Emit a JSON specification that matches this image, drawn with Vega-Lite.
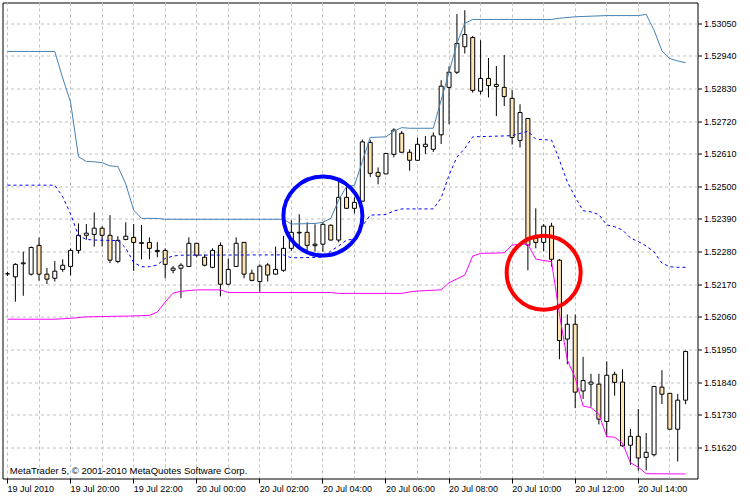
{
  "$schema": "https://vega.github.io/schema/vega-lite/v6.json",
  "width": 695,
  "height": 476,
  "padding": {"left": 2.5, "top": 2.5, "right": 52.5, "bottom": 21.5},
  "autosize": {"type": "none"},
  "background": "#ffffff",
  "config": {
    "view": {"stroke": "#000000", "strokeWidth": 1},
    "axis": {"labelOverlap": false}
  },
  "datasets": {
    "candles": [
      {"t":"2010-07-19T18:00:00Z","o":1.52205,"h":1.52212,"l":1.52198,"c":1.52205},
      {"t":"2010-07-19T18:15:00Z","o":1.52195,"h":1.52241,"l":1.52111,"c":1.52237},
      {"t":"2010-07-19T18:30:00Z","o":1.52239,"h":1.52280,"l":1.52131,"c":1.52242},
      {"t":"2010-07-19T18:45:00Z","o":1.52204,"h":1.52297,"l":1.52199,"c":1.52294},
      {"t":"2010-07-19T19:00:00Z","o":1.52301,"h":1.52327,"l":1.52182,"c":1.52204},
      {"t":"2010-07-19T19:15:00Z","o":1.52204,"h":1.52225,"l":1.52171,"c":1.52187},
      {"t":"2010-07-19T19:30:00Z","o":1.52190,"h":1.52248,"l":1.52179,"c":1.52214},
      {"t":"2010-07-19T19:45:00Z","o":1.52220,"h":1.52254,"l":1.52212,"c":1.52234},
      {"t":"2010-07-19T20:00:00Z","o":1.52230,"h":1.52291,"l":1.52199,"c":1.52284},
      {"t":"2010-07-19T20:15:00Z","o":1.52284,"h":1.52375,"l":1.52273,"c":1.52335},
      {"t":"2010-07-19T20:30:00Z","o":1.52335,"h":1.52373,"l":1.52320,"c":1.52342},
      {"t":"2010-07-19T20:45:00Z","o":1.52338,"h":1.52412,"l":1.52297,"c":1.52359},
      {"t":"2010-07-19T21:00:00Z","o":1.52359,"h":1.52365,"l":1.52297,"c":1.52335},
      {"t":"2010-07-19T21:15:00Z","o":1.52335,"h":1.52403,"l":1.52241,"c":1.52251},
      {"t":"2010-07-19T21:30:00Z","o":1.52247,"h":1.52332,"l":1.52241,"c":1.52318},
      {"t":"2010-07-19T21:45:00Z","o":1.52321,"h":1.52379,"l":1.52318,"c":1.52332},
      {"t":"2010-07-19T22:00:00Z","o":1.52328,"h":1.52373,"l":1.52215,"c":1.52311},
      {"t":"2010-07-19T22:15:00Z","o":1.52310,"h":1.52370,"l":1.52254,"c":1.52308},
      {"t":"2010-07-19T22:30:00Z","o":1.52311,"h":1.52328,"l":1.52254,"c":1.52291},
      {"t":"2010-07-19T22:45:00Z","o":1.52284,"h":1.52312,"l":1.52261,"c":1.52280},
      {"t":"2010-07-19T23:00:00Z","o":1.52284,"h":1.52291,"l":1.52190,"c":1.52237},
      {"t":"2010-07-19T23:15:00Z","o":1.52217,"h":1.52231,"l":1.52207,"c":1.52224},
      {"t":"2010-07-19T23:30:00Z","o":1.52224,"h":1.52241,"l":1.52123,"c":1.52234},
      {"t":"2010-07-19T23:45:00Z","o":1.52230,"h":1.52328,"l":1.52229,"c":1.52308},
      {"t":"2010-07-20T00:00:00Z","o":1.52308,"h":1.52309,"l":1.52261,"c":1.52268},
      {"t":"2010-07-20T00:15:00Z","o":1.52261,"h":1.52271,"l":1.52230,"c":1.52234},
      {"t":"2010-07-20T00:30:00Z","o":1.52227,"h":1.52291,"l":1.52224,"c":1.52284},
      {"t":"2010-07-20T00:45:00Z","o":1.52301,"h":1.52311,"l":1.52129,"c":1.52170},
      {"t":"2010-07-20T01:00:00Z","o":1.52170,"h":1.52257,"l":1.52168,"c":1.52220},
      {"t":"2010-07-20T01:15:00Z","o":1.52230,"h":1.52328,"l":1.52229,"c":1.52308},
      {"t":"2010-07-20T01:30:00Z","o":1.52311,"h":1.52312,"l":1.52190,"c":1.52204},
      {"t":"2010-07-20T01:45:00Z","o":1.52207,"h":1.52219,"l":1.52180,"c":1.52183},
      {"t":"2010-07-20T02:00:00Z","o":1.52179,"h":1.52237,"l":1.52145,"c":1.52231},
      {"t":"2010-07-20T02:15:00Z","o":1.52235,"h":1.52241,"l":1.52179,"c":1.52201},
      {"t":"2010-07-20T02:30:00Z","o":1.52204,"h":1.52297,"l":1.52203,"c":1.52220},
      {"t":"2010-07-20T02:45:00Z","o":1.52217,"h":1.52333,"l":1.52212,"c":1.52291},
      {"t":"2010-07-20T03:00:00Z","o":1.52291,"h":1.52386,"l":1.52283,"c":1.52345},
      {"t":"2010-07-20T03:15:00Z","o":1.52345,"h":1.52406,"l":1.52291,"c":1.52343},
      {"t":"2010-07-20T03:30:00Z","o":1.52345,"h":1.52379,"l":1.52283,"c":1.52301},
      {"t":"2010-07-20T03:45:00Z","o":1.52305,"h":1.52372,"l":1.52280,"c":1.52300},
      {"t":"2010-07-20T04:00:00Z","o":1.52305,"h":1.52379,"l":1.52280,"c":1.52372},
      {"t":"2010-07-20T04:15:00Z","o":1.52369,"h":1.52372,"l":1.52317,"c":1.52319},
      {"t":"2010-07-20T04:30:00Z","o":1.52319,"h":1.52521,"l":1.52311,"c":1.52463},
      {"t":"2010-07-20T04:45:00Z","o":1.52463,"h":1.52501,"l":1.52425,"c":1.52426},
      {"t":"2010-07-20T05:00:00Z","o":1.52426,"h":1.52463,"l":1.52409,"c":1.52446},
      {"t":"2010-07-20T05:15:00Z","o":1.52450,"h":1.52658,"l":1.52449,"c":1.52650},
      {"t":"2010-07-20T05:30:00Z","o":1.52648,"h":1.52657,"l":1.52532,"c":1.52544},
      {"t":"2010-07-20T05:45:00Z","o":1.52547,"h":1.52564,"l":1.52507,"c":1.52534},
      {"t":"2010-07-20T06:00:00Z","o":1.52542,"h":1.52612,"l":1.52541,"c":1.52611},
      {"t":"2010-07-20T06:15:00Z","o":1.52608,"h":1.52696,"l":1.52598,"c":1.52690},
      {"t":"2010-07-20T06:30:00Z","o":1.52679,"h":1.52687,"l":1.52614,"c":1.52615},
      {"t":"2010-07-20T06:45:00Z","o":1.52615,"h":1.52625,"l":1.52553,"c":1.52588},
      {"t":"2010-07-20T07:00:00Z","o":1.52588,"h":1.52664,"l":1.52587,"c":1.52642},
      {"t":"2010-07-20T07:15:00Z","o":1.52634,"h":1.52670,"l":1.52609,"c":1.52642},
      {"t":"2010-07-20T07:30:00Z","o":1.52625,"h":1.52682,"l":1.52616,"c":1.52670},
      {"t":"2010-07-20T07:45:00Z","o":1.52674,"h":1.52858,"l":1.52643,"c":1.52838},
      {"t":"2010-07-20T08:00:00Z","o":1.52834,"h":1.52905,"l":1.52710,"c":1.52885},
      {"t":"2010-07-20T08:15:00Z","o":1.52885,"h":1.53081,"l":1.52879,"c":1.52982},
      {"t":"2010-07-20T08:30:00Z","o":1.52971,"h":1.53094,"l":1.52948,"c":1.53012},
      {"t":"2010-07-20T08:45:00Z","o":1.53002,"h":1.53007,"l":1.52816,"c":1.52824},
      {"t":"2010-07-20T09:00:00Z","o":1.52821,"h":1.52993,"l":1.52810,"c":1.52864},
      {"t":"2010-07-20T09:15:00Z","o":1.52864,"h":1.52933,"l":1.52800,"c":1.52840},
      {"t":"2010-07-20T09:30:00Z","o":1.52844,"h":1.52906,"l":1.52737,"c":1.52837},
      {"t":"2010-07-20T09:45:00Z","o":1.52834,"h":1.52943,"l":1.52771,"c":1.52803},
      {"t":"2010-07-20T10:00:00Z","o":1.52797,"h":1.52825,"l":1.52641,"c":1.52665},
      {"t":"2010-07-20T10:15:00Z","o":1.52655,"h":1.52777,"l":1.52631,"c":1.52749},
      {"t":"2010-07-20T10:30:00Z","o":1.52729,"h":1.52730,"l":1.52217,"c":1.52302},
      {"t":"2010-07-20T10:45:00Z","o":1.52325,"h":1.52426,"l":1.52291,"c":1.52311},
      {"t":"2010-07-20T11:00:00Z","o":1.52311,"h":1.52373,"l":1.52281,"c":1.52366},
      {"t":"2010-07-20T11:15:00Z","o":1.52366,"h":1.52377,"l":1.52229,"c":1.52254},
      {"t":"2010-07-20T11:30:00Z","o":1.52251,"h":1.52255,"l":1.51917,"c":1.51980},
      {"t":"2010-07-20T11:45:00Z","o":1.51985,"h":1.52068,"l":1.51900,"c":1.52035},
      {"t":"2010-07-20T12:00:00Z","o":1.52035,"h":1.52068,"l":1.51752,"c":1.51806},
      {"t":"2010-07-20T12:15:00Z","o":1.51810,"h":1.51925,"l":1.51783,"c":1.51845},
      {"t":"2010-07-20T12:30:00Z","o":1.51833,"h":1.51868,"l":1.51757,"c":1.51840},
      {"t":"2010-07-20T12:45:00Z","o":1.51833,"h":1.51868,"l":1.51697,"c":1.51715},
      {"t":"2010-07-20T13:00:00Z","o":1.51707,"h":1.51910,"l":1.51656,"c":1.51863},
      {"t":"2010-07-20T13:15:00Z","o":1.51866,"h":1.51875,"l":1.51794,"c":1.51839},
      {"t":"2010-07-20T13:30:00Z","o":1.51840,"h":1.51883,"l":1.51622,"c":1.51625},
      {"t":"2010-07-20T13:45:00Z","o":1.51627,"h":1.51682,"l":1.51561,"c":1.51657},
      {"t":"2010-07-20T14:00:00Z","o":1.51657,"h":1.51749,"l":1.51541,"c":1.51584},
      {"t":"2010-07-20T14:15:00Z","o":1.51586,"h":1.51668,"l":1.51542,"c":1.51603},
      {"t":"2010-07-20T14:30:00Z","o":1.51595,"h":1.51827,"l":1.51589,"c":1.51825},
      {"t":"2010-07-20T14:45:00Z","o":1.51823,"h":1.51880,"l":1.51766,"c":1.51799},
      {"t":"2010-07-20T15:00:00Z","o":1.51802,"h":1.51803,"l":1.51680,"c":1.51681},
      {"t":"2010-07-20T15:15:00Z","o":1.51681,"h":1.51800,"l":1.51572,"c":1.51779},
      {"t":"2010-07-20T15:30:00Z","o":1.51779,"h":1.51946,"l":1.51765,"c":1.51943}
    ],
    "upper": [
      {"t":"2010-07-19T18:00:00Z","v":1.52955},
      {"t":"2010-07-19T19:30:00Z","v":1.52955},
      {"t":"2010-07-19T19:45:00Z","v":1.52865},
      {"t":"2010-07-19T20:00:00Z","v":1.52784},
      {"t":"2010-07-19T20:15:00Z","v":1.52600},
      {"t":"2010-07-19T20:30:00Z","v":1.52584},
      {"t":"2010-07-19T20:45:00Z","v":1.52583},
      {"t":"2010-07-19T21:00:00Z","v":1.52580},
      {"t":"2010-07-19T21:15:00Z","v":1.52569},
      {"t":"2010-07-19T21:30:00Z","v":1.52567},
      {"t":"2010-07-19T21:45:00Z","v":1.52508},
      {"t":"2010-07-19T22:00:00Z","v":1.52420},
      {"t":"2010-07-19T22:15:00Z","v":1.52392},
      {"t":"2010-07-19T22:45:00Z","v":1.52392},
      {"t":"2010-07-19T23:00:00Z","v":1.52389},
      {"t":"2010-07-20T02:45:00Z","v":1.52389},
      {"t":"2010-07-20T03:00:00Z","v":1.52373},
      {"t":"2010-07-20T03:45:00Z","v":1.52375},
      {"t":"2010-07-20T04:00:00Z","v":1.52379},
      {"t":"2010-07-20T04:15:00Z","v":1.52392},
      {"t":"2010-07-20T04:30:00Z","v":1.52454},
      {"t":"2010-07-20T04:45:00Z","v":1.52500},
      {"t":"2010-07-20T05:00:00Z","v":1.52503},
      {"t":"2010-07-20T05:15:00Z","v":1.52584},
      {"t":"2010-07-20T05:30:00Z","v":1.52665},
      {"t":"2010-07-20T05:45:00Z","v":1.52666},
      {"t":"2010-07-20T06:00:00Z","v":1.52667},
      {"t":"2010-07-20T06:15:00Z","v":1.52686},
      {"t":"2010-07-20T06:30:00Z","v":1.52698},
      {"t":"2010-07-20T06:45:00Z","v":1.52696},
      {"t":"2010-07-20T07:30:00Z","v":1.52696},
      {"t":"2010-07-20T07:45:00Z","v":1.52791},
      {"t":"2010-07-20T08:00:00Z","v":1.52885},
      {"t":"2010-07-20T08:15:00Z","v":1.52982},
      {"t":"2010-07-20T08:30:00Z","v":1.53050},
      {"t":"2010-07-20T08:45:00Z","v":1.53063},
      {"t":"2010-07-20T11:15:00Z","v":1.53063},
      {"t":"2010-07-20T11:30:00Z","v":1.53067},
      {"t":"2010-07-20T12:00:00Z","v":1.53072},
      {"t":"2010-07-20T13:00:00Z","v":1.53076},
      {"t":"2010-07-20T14:00:00Z","v":1.53076},
      {"t":"2010-07-20T14:15:00Z","v":1.53080},
      {"t":"2010-07-20T14:30:00Z","v":1.53027},
      {"t":"2010-07-20T14:45:00Z","v":1.52957},
      {"t":"2010-07-20T15:00:00Z","v":1.52931},
      {"t":"2010-07-20T15:15:00Z","v":1.52923},
      {"t":"2010-07-20T15:30:00Z","v":1.52917}
    ],
    "middle": [
      {"t":"2010-07-19T18:00:00Z","v":1.52504},
      {"t":"2010-07-19T19:30:00Z","v":1.52504},
      {"t":"2010-07-19T19:45:00Z","v":1.52465},
      {"t":"2010-07-19T20:00:00Z","v":1.52407},
      {"t":"2010-07-19T20:15:00Z","v":1.52334},
      {"t":"2010-07-19T20:30:00Z","v":1.52321},
      {"t":"2010-07-19T20:45:00Z","v":1.52319},
      {"t":"2010-07-19T21:30:00Z","v":1.52317},
      {"t":"2010-07-19T21:45:00Z","v":1.52292},
      {"t":"2010-07-19T22:00:00Z","v":1.52243},
      {"t":"2010-07-19T22:15:00Z","v":1.52229},
      {"t":"2010-07-19T22:30:00Z","v":1.52229},
      {"t":"2010-07-19T22:45:00Z","v":1.52235},
      {"t":"2010-07-19T23:00:00Z","v":1.52257},
      {"t":"2010-07-19T23:15:00Z","v":1.52265},
      {"t":"2010-07-19T23:30:00Z","v":1.52268},
      {"t":"2010-07-20T02:45:00Z","v":1.52269},
      {"t":"2010-07-20T03:00:00Z","v":1.52259},
      {"t":"2010-07-20T04:00:00Z","v":1.52261},
      {"t":"2010-07-20T04:15:00Z","v":1.52282},
      {"t":"2010-07-20T04:30:00Z","v":1.52299},
      {"t":"2010-07-20T04:45:00Z","v":1.52319},
      {"t":"2010-07-20T05:00:00Z","v":1.52322},
      {"t":"2010-07-20T05:15:00Z","v":1.52366},
      {"t":"2010-07-20T05:30:00Z","v":1.52403},
      {"t":"2010-07-20T05:45:00Z","v":1.52404},
      {"t":"2010-07-20T06:00:00Z","v":1.52405},
      {"t":"2010-07-20T06:15:00Z","v":1.52417},
      {"t":"2010-07-20T06:30:00Z","v":1.52424},
      {"t":"2010-07-20T07:30:00Z","v":1.52424},
      {"t":"2010-07-20T07:45:00Z","v":1.52461},
      {"t":"2010-07-20T08:00:00Z","v":1.52538},
      {"t":"2010-07-20T08:15:00Z","v":1.52599},
      {"t":"2010-07-20T08:30:00Z","v":1.52628},
      {"t":"2010-07-20T08:45:00Z","v":1.52667},
      {"t":"2010-07-20T10:00:00Z","v":1.52671},
      {"t":"2010-07-20T10:30:00Z","v":1.52686},
      {"t":"2010-07-20T10:45:00Z","v":1.52659},
      {"t":"2010-07-20T11:15:00Z","v":1.52656},
      {"t":"2010-07-20T11:30:00Z","v":1.52589},
      {"t":"2010-07-20T11:45:00Z","v":1.52515},
      {"t":"2010-07-20T12:00:00Z","v":1.52464},
      {"t":"2010-07-20T12:15:00Z","v":1.52418},
      {"t":"2010-07-20T12:30:00Z","v":1.52414},
      {"t":"2010-07-20T12:45:00Z","v":1.52405},
      {"t":"2010-07-20T13:00:00Z","v":1.52370},
      {"t":"2010-07-20T13:15:00Z","v":1.52364},
      {"t":"2010-07-20T13:30:00Z","v":1.52353},
      {"t":"2010-07-20T13:45:00Z","v":1.52326},
      {"t":"2010-07-20T14:00:00Z","v":1.52314},
      {"t":"2010-07-20T14:15:00Z","v":1.52299},
      {"t":"2010-07-20T14:30:00Z","v":1.52279},
      {"t":"2010-07-20T14:45:00Z","v":1.52241},
      {"t":"2010-07-20T15:00:00Z","v":1.52229},
      {"t":"2010-07-20T15:15:00Z","v":1.52227},
      {"t":"2010-07-20T15:30:00Z","v":1.52227}
    ],
    "lower": [
      {"t":"2010-07-19T18:00:00Z","v":1.52052},
      {"t":"2010-07-19T19:30:00Z","v":1.52052},
      {"t":"2010-07-19T20:00:00Z","v":1.52055},
      {"t":"2010-07-19T20:30:00Z","v":1.52060},
      {"t":"2010-07-19T22:00:00Z","v":1.52063},
      {"t":"2010-07-19T22:30:00Z","v":1.52065},
      {"t":"2010-07-19T22:45:00Z","v":1.52076},
      {"t":"2010-07-19T23:00:00Z","v":1.52110},
      {"t":"2010-07-19T23:15:00Z","v":1.52140},
      {"t":"2010-07-19T23:30:00Z","v":1.52146},
      {"t":"2010-07-20T00:00:00Z","v":1.52151},
      {"t":"2010-07-20T00:45:00Z","v":1.52151},
      {"t":"2010-07-20T01:00:00Z","v":1.52142},
      {"t":"2010-07-20T04:15:00Z","v":1.52142},
      {"t":"2010-07-20T04:30:00Z","v":1.52139},
      {"t":"2010-07-20T06:30:00Z","v":1.52139},
      {"t":"2010-07-20T06:45:00Z","v":1.52144},
      {"t":"2010-07-20T07:00:00Z","v":1.52147},
      {"t":"2010-07-20T07:45:00Z","v":1.52151},
      {"t":"2010-07-20T08:00:00Z","v":1.52175},
      {"t":"2010-07-20T08:15:00Z","v":1.52188},
      {"t":"2010-07-20T08:30:00Z","v":1.52201},
      {"t":"2010-07-20T08:45:00Z","v":1.52265},
      {"t":"2010-07-20T09:00:00Z","v":1.52274},
      {"t":"2010-07-20T09:45:00Z","v":1.52276},
      {"t":"2010-07-20T10:00:00Z","v":1.52302},
      {"t":"2010-07-20T10:15:00Z","v":1.52305},
      {"t":"2010-07-20T10:30:00Z","v":1.52305},
      {"t":"2010-07-20T10:45:00Z","v":1.52255},
      {"t":"2010-07-20T11:00:00Z","v":1.52250},
      {"t":"2010-07-20T11:15:00Z","v":1.52246},
      {"t":"2010-07-20T11:30:00Z","v":1.52069},
      {"t":"2010-07-20T11:45:00Z","v":1.51915},
      {"t":"2010-07-20T12:00:00Z","v":1.51854},
      {"t":"2010-07-20T12:15:00Z","v":1.51759},
      {"t":"2010-07-20T12:30:00Z","v":1.51754},
      {"t":"2010-07-20T12:45:00Z","v":1.51732},
      {"t":"2010-07-20T13:00:00Z","v":1.51656},
      {"t":"2010-07-20T13:15:00Z","v":1.51654},
      {"t":"2010-07-20T13:30:00Z","v":1.51634},
      {"t":"2010-07-20T13:45:00Z","v":1.51568},
      {"t":"2010-07-20T14:00:00Z","v":1.51553},
      {"t":"2010-07-20T14:15:00Z","v":1.51531},
      {"t":"2010-07-20T15:30:00Z","v":1.51530}
    ]
  },
  "encoding": {
    "x": {
      "field": "t",
      "type": "temporal",
      "title": null,
      "scale": {
        "type": "utc",
        "nice": false,
        "domain": [1279562400000, 1279640587500]
      },
      "axis": {
        "orient": "bottom",
        "values": [1279562400000, 1279566000000, 1279569600000, 1279573200000, 1279576800000, 1279580400000, 1279584000000, 1279587600000, 1279591200000, 1279594800000, 1279598400000, 1279602000000, 1279605600000, 1279609200000, 1279612800000, 1279616400000, 1279620000000, 1279623600000, 1279627200000, 1279630800000, 1279634400000, 1279638000000],
        "grid": true,
        "gridColor": "#c0c0c0",
        "gridDash": [3, 3],
        "gridWidth": 1,
        "domain": false,
        "ticks": true,
        "tickSize": 5,
        "tickColor": "#000000",
        "tickOpacity": {"condition": {"test": "utchours(datum.value) % 2 == 1", "value": 0}, "value": 1},
        "labelExpr": "utchours(datum.value) % 2 == 1 ? '' : ((utchours(datum.value) == 18 && utcdate(datum.value) == 19) ? '19 Jul 2010' : utcFormat(datum.value, '%d %b %H:%M'))",
        "labelAlign": "left",
        "labelBaseline": "top",
        "labelFlush": false,
        "labelBound": false,
        "labelOverlap": false,
        "labelPadding": 1,
        "labelFont": "Liberation Sans",
        "labelFontSize": 9,
        "labelColor": "#000000",
        "translate": 0
      }
    },
    "y": {
      "type": "quantitative",
      "title": null,
      "scale": {"domain": [1.5151479, 1.5312015], "nice": false, "zero": false},
      "axis": {
        "orient": "right",
        "values": [1.5162, 1.5173, 1.5184, 1.5195, 1.5206, 1.5217, 1.5228, 1.5239, 1.525, 1.5261, 1.5272, 1.5283, 1.5294, 1.5305],
        "format": ".5f",
        "grid": true,
        "gridColor": "#c0c0c0",
        "gridDash": [3, 3],
        "gridWidth": 1,
        "domain": false,
        "tickSize": 4,
        "tickColor": "#000000",
        "labelPadding": 2,
        "labelOverlap": false,
        "labelFont": "Liberation Sans",
        "labelFontSize": 9,
        "labelColor": "#000000",
        "labelBaseline": "middle"
      }
    }
  },
  "layer": [
    {
      "data": {"name": "candles"},
      "mark": {"type": "rule", "color": "#000000", "strokeWidth": 1, "clip": true},
      "encoding": {
        "y": {"field": "l"},
        "y2": {"field": "h"}
      }
    },
    {
      "data": {"name": "candles"},
      "mark": {"type": "bar", "size": 4, "stroke": "#000000", "strokeWidth": 1, "clip": true},
      "encoding": {
        "y": {"field": "o"},
        "y2": {"field": "c"},
        "fill": {"condition": {"test": "datum.c >= datum.o", "value": "#ffffff"}, "value": "#FFE4B5"}
      }
    },
    {
      "data": {"name": "upper"},
      "mark": {"type": "line", "color": "#4682B4", "strokeWidth": 1, "clip": true},
      "encoding": {"y": {"field": "v"}}
    },
    {
      "data": {"name": "middle"},
      "mark": {"type": "line", "color": "#0000FF", "strokeWidth": 1, "strokeDash": [3, 3], "clip": true},
      "encoding": {"y": {"field": "v"}}
    },
    {
      "data": {"name": "lower"},
      "mark": {"type": "line", "color": "#FF00FF", "strokeWidth": 1, "clip": true},
      "encoding": {"y": {"field": "v"}}
    },
    {
      "data": {"values": [{"t": "2010-07-20T04:00:00Z", "v": 1.52400}]},
      "mark": {"type": "point", "shape": "circle", "filled": false, "stroke": "#0000FF", "strokeWidth": 4, "size": 6241, "opacity": 1, "clip": true},
      "encoding": {"y": {"field": "v"}}
    },
    {
      "data": {"values": [{"t": "2010-07-20T11:00:00Z", "v": 1.52209}]},
      "mark": {"type": "point", "shape": "circle", "filled": false, "stroke": "#FF0000", "strokeWidth": 4, "size": 5476, "opacity": 1, "clip": true},
      "encoding": {"y": {"field": "v"}}
    },
    {
      "data": {"values": [{"t": "2010-07-19T18:04:30Z", "v": 1.51530, "label": "MetaTrader 5, © 2001-2010 MetaQuotes Software Corp."}]},
      "mark": {"type": "text", "align": "left", "baseline": "alphabetic", "font": "Liberation Sans", "fontSize": 9.5, "color": "#000000"},
      "encoding": {"y": {"field": "v"}, "text": {"field": "label"}}
    }
  ]
}
